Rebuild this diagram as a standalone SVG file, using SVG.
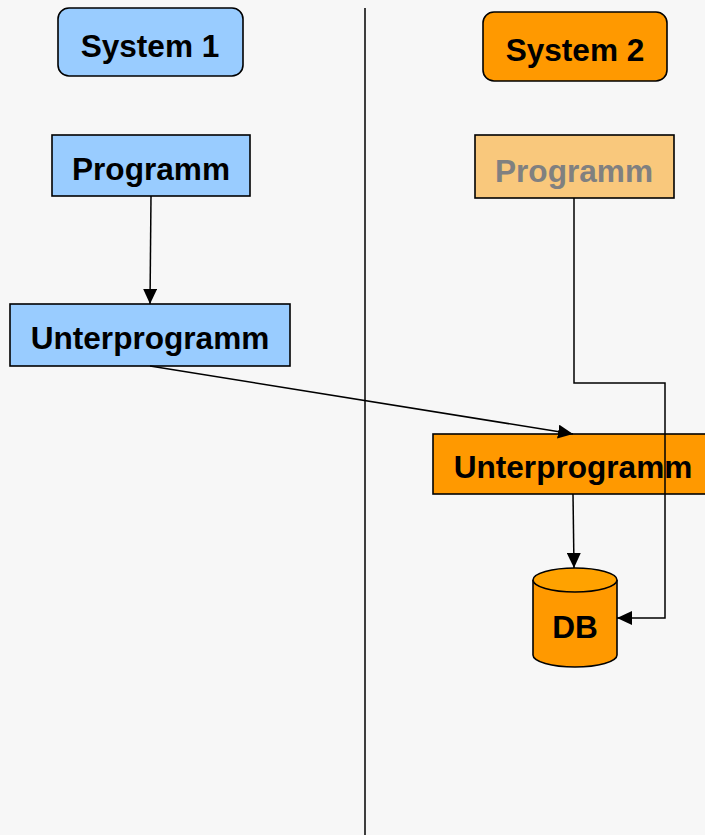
<svg xmlns="http://www.w3.org/2000/svg" width="705" height="835" viewBox="0 0 705 835">
<style>
.t{font-family:"Liberation Sans",Arial,sans-serif;font-weight:bold;font-size:31.6px;text-anchor:middle;fill:#000}
.b{stroke:#000;stroke-width:1.6}
.c{fill:none;stroke:#000;stroke-width:1.5}
</style>
<defs>
<marker id="ah" markerWidth="15" markerHeight="14" refX="15" refY="7" orient="auto" markerUnits="userSpaceOnUse">
<path d="M0,0 L15,7 L0,14 Z" fill="#000"/>
</marker>
</defs>
<rect width="705" height="835" fill="#f7f7f7"/>
<line x1="365" y1="8" x2="365" y2="835" stroke="#000" stroke-width="1.5"/>
<g id="system1"><rect class="b" x="58" y="8" width="185" height="68" rx="11" fill="#99ccff"/><text class="t" x="150" y="57">System 1</text></g>
<g id="programm1"><rect class="b" x="52" y="135" width="198" height="61" fill="#99ccff"/><text class="t" x="151" y="180">Programm</text></g>
<g id="unterprogramm1"><rect class="b" x="10" y="304" width="280" height="62" fill="#99ccff"/><text class="t" x="150" y="349">Unterprogramm</text></g>
<g id="system2"><rect class="b" x="483" y="12" width="184" height="69" rx="11" fill="#ff9900"/><text class="t" x="575" y="61">System 2</text></g>
<g id="programm2"><rect class="b" x="475" y="135" width="199" height="63" fill="#f9c87c"/><text class="t" x="574" y="182" style="fill:#808080">Programm</text></g>
<g id="unterprogramm2"><rect class="b" x="433" y="434" width="280" height="60" fill="#ff9900"/><text class="t" x="573" y="478">Unterprogramm</text></g>
<g id="db">
<path class="b" d="M533,580 L533,655 A42,12 0 0 0 617,655 L617,580" fill="#ff9900"/>
<ellipse class="b" cx="575" cy="580" rx="42" ry="12" fill="#ffa200"/>
<text class="t" x="575" y="638">DB</text>
</g>
<g id="connectors">
<line class="c" x1="151" y1="196" x2="150" y2="304" marker-end="url(#ah)"/>
<line class="c" x1="150" y1="366" x2="573" y2="434" marker-end="url(#ah)"/>
<line class="c" x1="573" y1="494" x2="574" y2="568" marker-end="url(#ah)"/>
<polyline class="c" points="574,198 574,383 665,383 665,618 617,618" marker-end="url(#ah)"/>
</g>
</svg>
